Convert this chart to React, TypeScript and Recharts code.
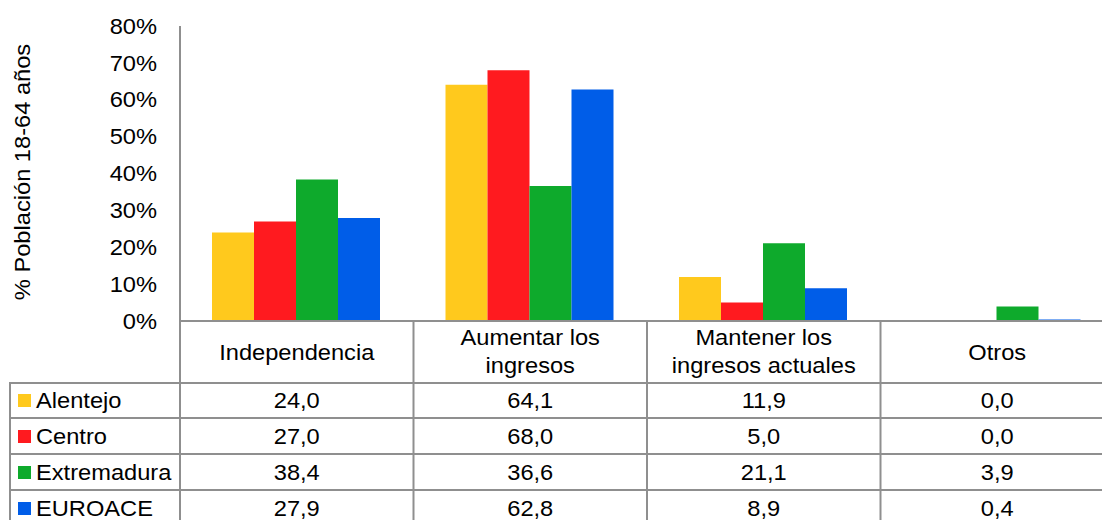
import { Bar, BarChart, Customized, XAxis, YAxis } from 'recharts';

const CATEGORIES = ['Independencia', 'Aumentar los ingresos', 'Mantener los ingresos actuales', 'Otros'];
const CATEGORY_LINES = [['Independencia'], ['Aumentar los', 'ingresos'], ['Mantener los', 'ingresos actuales'], ['Otros']];

const SERIES = ['Alentejo', 'Centro', 'Extremadura', 'EUROACE'];
const COLORS = ['#FFC91D', '#FF1A1F', '#0EAA2C', '#005DE8'];

const ALENTEJO = [24.0, 64.1, 11.9, 0.0];
const CENTRO = [27.0, 68.0, 5.0, 0.0];
const EXTREMADURA = [38.4, 36.6, 21.1, 3.9];
const EUROACE = [27.9, 62.8, 8.9, 0.4];
const VALUES = [ALENTEJO, CENTRO, EXTREMADURA, EUROACE];

const Y_TICKS = [0, 10, 20, 30, 40, 50, 60, 70, 80];

const data = CATEGORIES.map((name, i) => ({
  name,
  Alentejo: ALENTEJO[i],
  Centro: CENTRO[i],
  Extremadura: EXTREMADURA[i],
  EUROACE: EUROACE[i],
}));

// layout of the chart + table underneath
const CHART_W = 1130;
const CHART_H = 520;
const PLOT_LEFT = 180;
const PLOT_RIGHT = 1114;
const PLOT_TOP = 26;
const X_AXIS_H = 199;
const BAND = (PLOT_RIGHT - PLOT_LEFT) / CATEGORIES.length;
const TABLE_LEFT = 10;
const HEADER_BOTTOM = 383;
const ROW_LINES = [HEADER_BOTTOM, 418, 454, 490];
const ROW_BASELINES = [408, 444, 480, 516];

const GRID = '#8F8F8F';
const FONT = '"Liberation Sans", Arial, sans-serif';
const SX = 1.1;

function T({ x, y, anchor = 'middle', rotate = 0, children }: any) {
  return (
    <text
      transform={`translate(${x},${y})${rotate ? ` rotate(${rotate})` : ''} scale(${SX},1)`}
      textAnchor={anchor}
      fontFamily={FONT}
      fontSize={21.5}
      fill="#000"
    >
      {children}
    </text>
  );
}

const fmt = (v: number) => v.toFixed(1).replace('.', ',');

function YTick({ y, payload }: any) {
  return <T x={157} y={y + 7.7} anchor="end">{`${payload.value}%`}</T>;
}

function CategoryTick({ x, index }: any) {
  const lines = CATEGORY_LINES[index];
  const left = x - BAND / 2;
  const right = x + BAND / 2;
  const baselines = lines.length === 1 ? [360] : [345, 373];
  return (
    <g>
      <line x1={left} x2={left} y1={321} y2={CHART_H} stroke={GRID} strokeWidth={2} />
      {index === CATEGORIES.length - 1 && (
        <line x1={right} x2={right} y1={321} y2={CHART_H} stroke={GRID} strokeWidth={2} />
      )}
      {lines.map((line, i) => (
        <T key={line} x={x} y={baselines[i]}>{line}</T>
      ))}
      {VALUES.map((series, r) => (
        <T key={SERIES[r]} x={x} y={ROW_BASELINES[r]}>{fmt(series[index])}</T>
      ))}
    </g>
  );
}

function TableFrame() {
  return (
    <g>
      {ROW_LINES.map((y) => (
        <line key={y} x1={TABLE_LEFT - 1} x2={PLOT_RIGHT} y1={y} y2={y} stroke={GRID} strokeWidth={2} />
      ))}
      <line x1={TABLE_LEFT} x2={TABLE_LEFT} y1={HEADER_BOTTOM} y2={CHART_H} stroke={GRID} strokeWidth={2} />
      {SERIES.map((name, r) => (
        <g key={name}>
          <rect x={18} y={ROW_BASELINES[r] - 14} width={13} height={13} fill={COLORS[r]} />
          <T x={36} y={ROW_BASELINES[r]} anchor="start">{name}</T>
        </g>
      ))}
      <T x={30} y={172} rotate={-90}>% Población 18-64 años</T>
    </g>
  );
}

export default function App() {
  return (
    <div style={{ position: 'absolute', left: 0, top: 0, width: 1102, height: 520, overflow: 'hidden', background: '#fff' }}>
      <BarChart
        width={CHART_W}
        height={CHART_H}
        data={data}
        margin={{ top: PLOT_TOP, right: CHART_W - PLOT_RIGHT, bottom: 0, left: PLOT_LEFT - 60 }}
        barCategoryGap={32}
        barGap={0}
      >
        <YAxis
          width={60}
          domain={[0, 80]}
          ticks={Y_TICKS}
          interval={0}
          tickLine={false}
          axisLine={{ stroke: GRID, strokeWidth: 2 }}
          tick={<YTick />}
        />
        <XAxis
          dataKey="name"
          height={X_AXIS_H}
          interval={0}
          tickLine={false}
          axisLine={{ stroke: GRID, strokeWidth: 2 }}
          tick={<CategoryTick />}
        />
        {SERIES.map((name, i) => (
          <Bar key={name} dataKey={name} fill={COLORS[i]} isAnimationActive={false} />
        ))}
        <Customized component={<TableFrame />} />
      </BarChart>
    </div>
  );
}
